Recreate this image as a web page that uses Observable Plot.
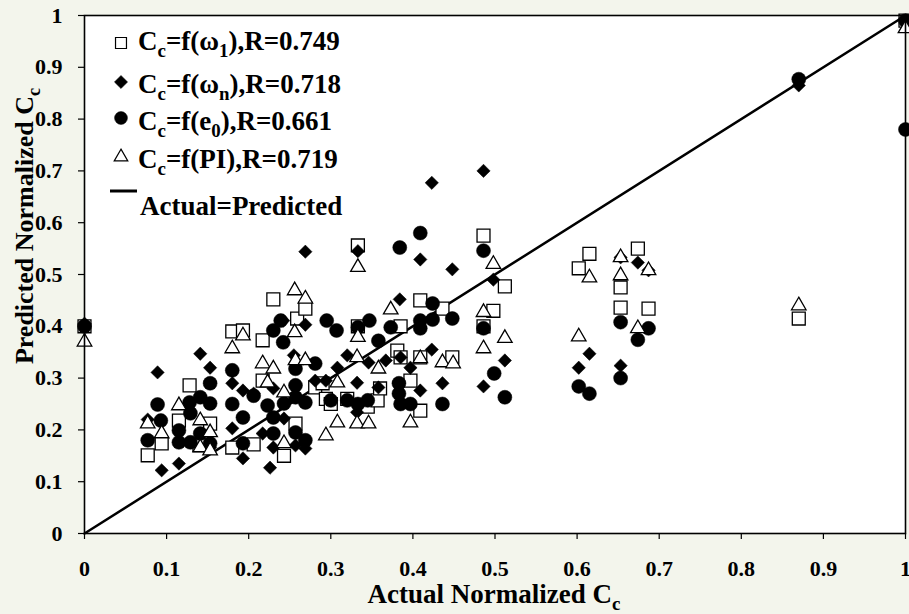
<!DOCTYPE html>
<html><head><meta charset="utf-8">
<script src="https://cdn.jsdelivr.net/npm/d3@7"></script>
<script src="https://cdn.jsdelivr.net/npm/@observablehq/plot@0.6"></script>
<style>
body{margin:0;background:#f3f5ec;}
#chart{width:909px;height:614px;position:relative;}
</style></head><body><div id="chart"></div>
<script>
// [actual normalized Cc, predicted normalized Cc]
const omega1 = [[0,0.40],[0.077,0.151],[0.094,0.174],[0.115,0.218],[0.128,0.286],[0.14,0.17],[0.153,0.212],[0.18,0.39],[0.193,0.392],[0.18,0.166],[0.206,0.172],[0.217,0.373],[0.217,0.295],[0.23,0.452],[0.243,0.15],[0.257,0.212],[0.259,0.415],[0.269,0.434],[0.281,0.282],[0.29,0.29],[0.294,0.26],[0.30,0.25],[0.32,0.26],[0.333,0.556],[0.333,0.40],[0.345,0.245],[0.357,0.257],[0.36,0.28],[0.381,0.353],[0.385,0.40],[0.385,0.34],[0.397,0.295],[0.409,0.45],[0.409,0.34],[0.409,0.237],[0.436,0.434],[0.448,0.34],[0.486,0.575],[0.486,0.40],[0.498,0.43],[0.512,0.477],[0.602,0.512],[0.615,0.54],[0.653,0.475],[0.653,0.436],[0.674,0.55],[0.687,0.434],[0.87,0.415],[1,0.99]];
const omegaN = [[0,0.405],[0.077,0.22],[0.089,0.311],[0.094,0.122],[0.115,0.135],[0.141,0.347],[0.153,0.32],[0.153,0.166],[0.18,0.29],[0.18,0.203],[0.193,0.145],[0.193,0.276],[0.206,0.27],[0.217,0.193],[0.226,0.127],[0.23,0.28],[0.23,0.166],[0.242,0.411],[0.243,0.222],[0.255,0.344],[0.257,0.17],[0.269,0.164],[0.269,0.403],[0.269,0.544],[0.281,0.295],[0.294,0.295],[0.308,0.32],[0.32,0.344],[0.332,0.291],[0.332,0.234],[0.333,0.545],[0.346,0.33],[0.358,0.282],[0.367,0.334],[0.384,0.452],[0.385,0.34],[0.397,0.32],[0.409,0.529],[0.409,0.276],[0.423,0.677],[0.423,0.355],[0.436,0.29],[0.448,0.51],[0.486,0.70],[0.486,0.284],[0.498,0.49],[0.512,0.334],[0.602,0.32],[0.615,0.347],[0.653,0.533],[0.653,0.324],[0.674,0.523],[0.687,0.508],[0.87,0.865],[1,0.99]];
const e0 = [[0,0.40],[0.077,0.18],[0.089,0.249],[0.093,0.218],[0.115,0.199],[0.115,0.176],[0.128,0.253],[0.129,0.232],[0.129,0.176],[0.141,0.263],[0.141,0.193],[0.153,0.29],[0.153,0.251],[0.153,0.174],[0.18,0.315],[0.18,0.25],[0.193,0.224],[0.193,0.174],[0.206,0.266],[0.223,0.247],[0.23,0.224],[0.23,0.392],[0.23,0.193],[0.239,0.411],[0.242,0.369],[0.243,0.251],[0.257,0.318],[0.257,0.286],[0.257,0.263],[0.257,0.195],[0.269,0.253],[0.269,0.18],[0.281,0.328],[0.295,0.411],[0.30,0.257],[0.307,0.392],[0.32,0.257],[0.333,0.398],[0.333,0.25],[0.345,0.257],[0.347,0.411],[0.358,0.372],[0.373,0.398],[0.383,0.29],[0.383,0.27],[0.384,0.552],[0.385,0.25],[0.397,0.25],[0.409,0.58],[0.409,0.411],[0.409,0.396],[0.424,0.444],[0.424,0.413],[0.436,0.25],[0.448,0.415],[0.486,0.546],[0.486,0.396],[0.499,0.309],[0.512,0.263],[0.602,0.284],[0.615,0.27],[0.653,0.408],[0.653,0.30],[0.674,0.374],[0.687,0.396],[0.87,0.877],[1,0.99],[1,0.78]];
const pi = [[0,0.37],[0.077,0.212],[0.094,0.193],[0.115,0.247],[0.141,0.218],[0.141,0.166],[0.153,0.16],[0.153,0.195],[0.18,0.357],[0.193,0.382],[0.217,0.328],[0.223,0.291],[0.23,0.318],[0.243,0.272],[0.243,0.174],[0.256,0.469],[0.256,0.388],[0.257,0.334],[0.269,0.453],[0.269,0.334],[0.294,0.189],[0.308,0.291],[0.308,0.214],[0.332,0.34],[0.332,0.212],[0.333,0.514],[0.333,0.379],[0.346,0.212],[0.358,0.318],[0.373,0.432],[0.397,0.214],[0.409,0.338],[0.436,0.33],[0.449,0.328],[0.486,0.427],[0.486,0.357],[0.498,0.52],[0.512,0.377],[0.602,0.38],[0.615,0.494],[0.653,0.498],[0.653,0.533],[0.674,0.396],[0.687,0.508],[0.87,0.44],[1,0.975]];
const identityLine = [[0,0],[1,1]];
const ticks = [0,0.1,0.2,0.3,0.4,0.5,0.6,0.7,0.8,0.9,1];
const legendLabels = [
  [["C",""],["c","sub"],["=f(ω",""],["1","sub"],["),R=0.749",""]],
  [["C",""],["c","sub"],["=f(ω",""],["n","sub"],["),R=0.718",""]],
  [["C",""],["c","sub"],["=f(e",""],["0","sub"],["),R=0.661",""]],
  [["C",""],["c","sub"],["=f(PI),R=0.719",""]],
  [["Actual=Predicted",""]]
];

const font = "'Liberation Serif','Times New Roman',Times,serif";
const fmt = d => (d === 0 ? "0" : d === 1 ? "1" : d.toFixed(1));
const X = d => d[0], Y = d => d[1];
const TICK_FONT = 22;

const plot = Plot.plot({
  width: 909, height: 614,
  marginLeft: 84, marginRight: 4, marginTop: 15, marginBottom: 81,
  style: {background: "#f3f5ec", fontFamily: font, fontSize: TICK_FONT + "px", fontWeight: "bold", color: "black", overflow: "visible"},
  x: {domain: [0, 1]},
  y: {domain: [0, 1]},
  marks: [
    Plot.frame({fill: "white", stroke: null}),
    Plot.axisX(ticks, {tickSize: 6, tickPadding: 21, tickFormat: fmt, label: null, strokeWidth: 1.2, fontSize: TICK_FONT}),
    Plot.axisY(ticks, {tickSize: 6, tickPadding: 16, tickFormat: fmt, label: null, strokeWidth: 1.2, fontSize: TICK_FONT}),
    Plot.line(identityLine, {x: X, y: Y, stroke: "black", strokeWidth: 2.5}),
    Plot.dot(omega1, {x: X, y: Y, symbol: "square", r: 7.3, fill: "white", stroke: "black", strokeWidth: 1.3}),
    Plot.dot(omegaN, {x: X, y: Y, symbol: "diamond2", r: 6, fill: "black", stroke: "black", strokeWidth: 0.5}),
    Plot.dot(e0, {x: X, y: Y, symbol: "circle", r: 7, fill: "black", stroke: "black", strokeWidth: 0.5}),
    Plot.dot(pi, {x: X, y: Y, symbol: "triangle", r: 5.4, fill: "white", stroke: "black", strokeWidth: 1.3}),
    Plot.frame({stroke: "black", strokeWidth: 1.6})
  ]
});
document.getElementById("chart").appendChild(plot);

const svg = d3.select(plot);

function richText(g, parts, size, anchor) {
  const t = g.append("text").attr("font-family", font).attr("font-weight", "bold")
    .style("font-size", size + "px").attr("fill", "black").attr("text-anchor", anchor).style("text-anchor", anchor);
  let shifted = false;
  for (const [s, k] of parts) {
    const ts = t.append("tspan").text(s);
    if (k === "sub" && !shifted) { ts.style("font-size", size * 0.7 + "px").attr("dy", size * 0.27); shifted = true; }
    else if (k !== "sub" && shifted) { ts.attr("dy", -size * 0.27); shifted = false; }
    else if (k === "sub") ts.style("font-size", size * 0.7 + "px");
  }
  return t;
}
// legend
const lg = svg.append("g");
const rows = [50, 93, 130, 168, 215];
const symY = [43, 82, 118, 157];
const symbols = [d3.symbolSquare, d3.symbolDiamond2, d3.symbolCircle, d3.symbolTriangle];
const symSizes = [120, 110, 130, 80];
const symFill = ["white", "black", "black", "white"];
symbols.forEach((s, i) => {
  lg.append("path").attr("d", d3.symbol(s, symSizes[i])()).attr("transform", `translate(121,${symY[i]})`)
    .attr("fill", symFill[i]).attr("stroke", "black").attr("stroke-width", i % 3 === 0 ? 1.2 : 0.5);
});
lg.append("line").attr("x1", 110).attr("x2", 137).attr("y1", 191).attr("y2", 191).attr("stroke", "black").attr("stroke-width", 3);
legendLabels.forEach((parts, i) => {
  richText(lg, parts, 27, "start").attr("x", i === 4 ? 140 : 138).attr("y", rows[i]);
});
// axis titles
richText(svg, [["Actual Normalized C",""],["c","sub"]], 27, "middle").attr("x", 494).attr("y", 603);
richText(svg, [["Predicted Normalized C",""],["c","sub"]], 26, "middle").attr("transform", "translate(33,226) rotate(-90)");
</script></body></html>
